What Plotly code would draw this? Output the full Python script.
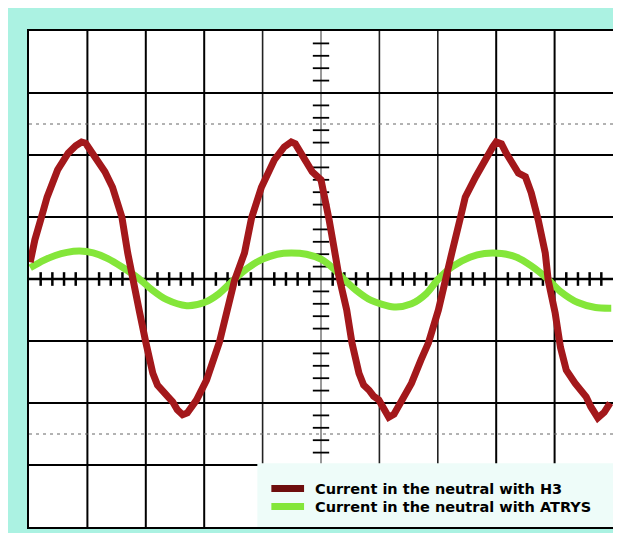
import plotly.graph_objects as go

# ---- data (x and y in screen divisions) ----
series_names = ["Current in the neutral with H3", "Current in the neutral with ATRYS"]

h3_x = [0.02, 0.10, 0.22, 0.31, 0.49, 0.67, 0.80, 0.90, 0.97, 1.08, 1.21, 1.30, 1.43, 1.59,
        1.69, 1.77, 1.89, 2.00, 2.12, 2.20, 2.29, 2.37, 2.46, 2.54, 2.63, 2.71, 2.87, 3.04,
        3.26, 3.40, 3.52, 3.69, 3.81, 3.98, 4.20, 4.37, 4.49, 4.56, 4.66, 4.76, 4.85, 5.00,
        5.09, 5.14, 5.22, 5.31, 5.44, 5.53, 5.65, 5.73, 5.82, 5.90, 5.99, 6.08, 6.16, 6.25,
        6.33, 6.55, 6.71, 6.84, 7.01, 7.13, 7.24, 7.39, 7.47, 7.65, 7.83, 7.94, 8.00, 8.09,
        8.17, 8.29, 8.38, 8.50, 8.60, 8.72, 8.84, 8.89, 9.01, 9.10, 9.20, 9.35, 9.45, 9.54,
        9.62, 9.74, 9.85, 9.95]
h3_y = [0.27, 0.63, 1.02, 1.32, 1.76, 2.03, 2.15, 2.21, 2.19, 2.03, 1.87, 1.73, 1.48, 1.00,
        0.42, -0.02, -0.52, -1.02, -1.52, -1.71, -1.79, -1.89, -1.98, -2.11, -2.19, -2.16,
        -1.95, -1.63, -1.02, -0.50, -0.02, 0.42, 0.98, 1.48, 1.92, 2.13, 2.21, 2.18, 2.03,
        1.87, 1.73, 1.60, 1.23, 0.95, 0.52, 0.03, -0.50, -1.03, -1.52, -1.71, -1.79, -1.89,
        -1.95, -2.11, -2.23, -2.18, -2.06, -1.68, -1.31, -1.03, -0.50, 0.03, 0.42, 1.00, 1.32,
        1.65, 1.97, 2.13, 2.21, 2.18, 2.03, 1.87, 1.71, 1.65, 1.39, 0.95, 0.42, -0.02, -0.55,
        -1.10, -1.47, -1.68, -1.79, -1.90, -2.06, -2.24, -2.15, -2.00]

atrys_x = [0.02, 0.25, 0.45, 0.65, 0.87, 1.10, 1.35, 1.60, 1.89, 2.10, 2.35, 2.70, 3.00,
           3.25, 3.52, 3.75, 4.00, 4.25, 4.49, 4.75, 5.00, 5.20, 5.39, 5.60, 5.85, 6.25,
           6.55, 6.80, 7.01, 7.25, 7.55, 7.80, 8.09, 8.35, 8.60, 8.88, 9.10, 9.40, 9.70, 9.97]
atrys_y = [0.18, 0.30, 0.38, 0.43, 0.45, 0.42, 0.33, 0.19, 0.00, -0.17, -0.33, -0.43, -0.38,
           -0.24, 0.00, 0.18, 0.32, 0.40, 0.42, 0.40, 0.32, 0.18, 0.00, -0.18, -0.34, -0.45,
           -0.40, -0.24, 0.00, 0.20, 0.35, 0.41, 0.41, 0.35, 0.21, 0.00, -0.20, -0.38, -0.46, -0.47]

# ---- styling ----
RED = "#a3181b"
RED_SWATCH = "#6e0e0e"
GREEN = "#84e63a"
CYAN = "#abf2e2"

fig = go.Figure()
fig.add_trace(go.Scatter(x=atrys_x, y=atrys_y, mode="lines", name=series_names[1],
                         line=dict(color=GREEN, width=7, shape="spline", smoothing=0.8),
                         hoverinfo="skip", showlegend=False))
fig.add_trace(go.Scatter(x=h3_x, y=h3_y, mode="lines", name=series_names[0],
                         line=dict(color=RED, width=7), hoverinfo="skip", showlegend=False))

shapes = []
# grid lines
for gx in range(1, 10):
    if gx == 5:
        w, c = 1.2, "#555"
    elif gx in (4, 6, 7):
        w, c = 1.6, "#222"
    else:
        w, c = 2, "#000"
    shapes.append(dict(type="line", xref="x", yref="y", x0=gx, x1=gx, y0=-4, y1=4,
                       line=dict(color=c, width=w), layer="below"))
for gy in range(-3, 4):
    shapes.append(dict(type="line", xref="x", yref="y", x0=0, x1=10, y0=gy, y1=gy,
                       line=dict(color="#000", width=2.6 if gy == 0 else 2), layer="below"))
# dashed reference lines
for dy in (2.5, -2.5):
    shapes.append(dict(type="line", xref="x", yref="y", x0=0, x1=10, y0=dy, y1=dy,
                       line=dict(color="#666", width=1, dash="3px,4px"), layer="below"))
# minor ticks on centre horizontal axis
for k in range(1, 50):
    if k % 5 == 0:
        continue
    tx = k * 0.2
    shapes.append(dict(type="line", xref="x", yref="y", x0=tx, x1=tx, y0=-0.11, y1=0.11,
                       line=dict(color="#000", width=2.5), layer="below"))
# minor ticks on centre vertical axis
for k in range(-19, 20):
    if k % 5 == 0:
        continue
    ty = k * 0.2
    shapes.append(dict(type="line", xref="x", yref="y", x0=4.86, x1=5.14, y0=ty, y1=ty,
                       line=dict(color="#000", width=1.8), layer="below"))
# legend panel
shapes.append(dict(type="rect", xref="x", yref="y", x0=3.91, x1=10, y0=-4, y1=-2.97,
                   fillcolor="#eefcf9", line=dict(width=0), layer="below"))

# legend (swatches + labels)
legend_rows_y = [-3.38, -3.67]
swatch_colors = [RED_SWATCH, GREEN]
annotations = []
for name, ly, col in zip(series_names, legend_rows_y, swatch_colors):
    shapes.append(dict(type="line", xref="x", yref="y", x0=4.15, x1=4.71, y0=ly, y1=ly,
                       line=dict(color=col, width=7), layer="above"))
    annotations.append(dict(x=4.86, y=ly, xref="x", yref="y", text="<b>" + name + "</b>",
                            showarrow=False, xanchor="left", yanchor="middle",
                            font=dict(family="DejaVu Sans", size=14.5, color="#000")))

fig.update_layout(
    width=613, height=525,
    margin=dict(l=21, r=6, t=23, b=6),
    paper_bgcolor=CYAN, plot_bgcolor="white",
    shapes=shapes, annotations=annotations,
    xaxis=dict(range=[0, 10], showgrid=False, zeroline=False, showticklabels=False,
               ticks="", showline=True, mirror=True, linecolor="#000", linewidth=2, fixedrange=True),
    yaxis=dict(range=[-4, 4], showgrid=False, zeroline=False, showticklabels=False,
               ticks="", showline=True, mirror=True, linecolor="#000", linewidth=2, fixedrange=True),
    showlegend=False,
)

fig.write_html("out.html")
